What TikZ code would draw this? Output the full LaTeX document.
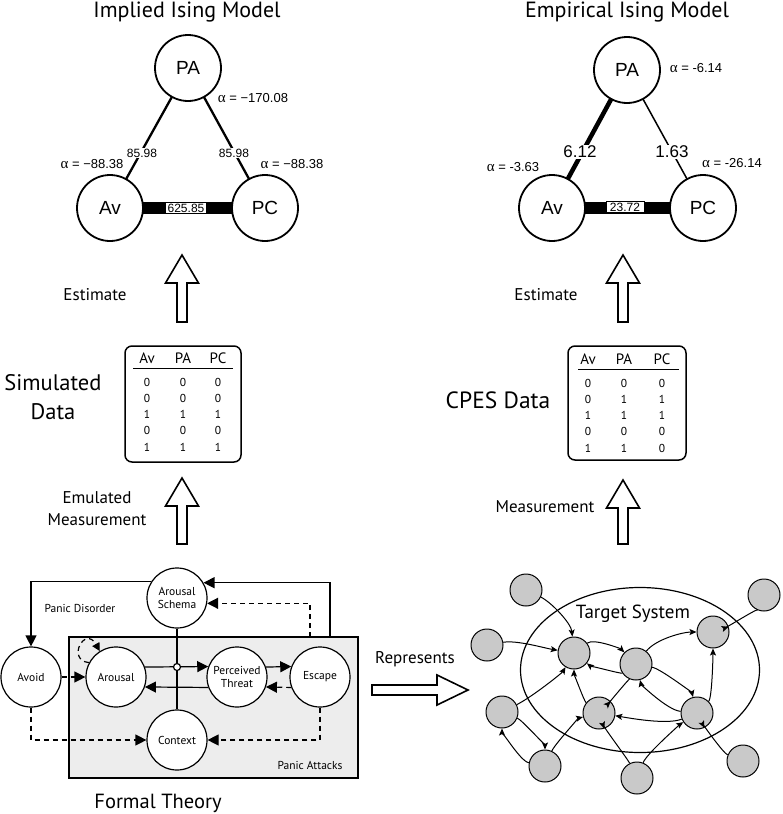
\documentclass[tikz,border=0pt]{standalone}
\usepackage{fontspec}
\setmainfont{PT Sans}
\newfontfamily\arialf{Liberation Sans}
\newfontfamily\timesf{Liberation Serif}
\usetikzlibrary{arrows.meta,shapes.geometric}
\pgfdeclarelayer{bg}
\pgfsetlayers{bg,main}
\newcommand\hollowup[3]{\draw[hollow] (#1,#2) -- (#1+16.5,#2+28) -- (#1+5,#2+28) -- (#1+5,#3) -- (#1-5,#3) -- (#1-5,#2+28) -- (#1-16.5,#2+28) -- cycle;}
\newcommand\alf{{\timesf\fontsize{15}{15}\selectfont α}}
\begin{document}
\begin{tikzpicture}[x=1pt,y=-1pt,
  isnode/.style={circle,draw,fill=white,line width=1.8pt,minimum size=66pt,inner sep=0pt,font=\arialf\fontsize{19}{19}\selectfont},
  ftnode/.style={circle,draw,line width=1.2pt,fill=white,minimum size=60pt,inner sep=0pt,align=center,font=\fontsize{11.5}{13}\selectfont},
  gnode/.style={circle,draw,line width=1pt,fill=black!21,minimum size=32pt,inner sep=0pt},
  elab/.style={font=\arialf\fontsize{12}{12}\selectfont,inner sep=1pt},
  blab/.style={font=\arialf\fontsize{17}{17}\selectfont,inner sep=1pt,fill=white},
  alab/.style={font=\arialf\fontsize{13}{13}\selectfont,inner sep=0pt},
  bigarr/.style={-{Triangle[length=11pt,width=11pt]}},
  smarr/.style={-{Stealth[length=7pt,width=6pt,inset=1.5pt]}},
  dsh/.style={dash pattern=on 5pt off 4pt},
  hollow/.style={draw,line width=1.6pt,fill=white,line join=miter},
  lbl/.style={font=\fontsize{17}{22}\selectfont,align=center},
  big/.style={font=\fontsize{22.5}{29}\selectfont,align=center},
  tab/.style={font=\fontsize{11.5}{11}\selectfont,anchor=base},
  tabh/.style={font=\fontsize{15}{15}\selectfont,anchor=base},
  ftl/.style={font=\fontsize{11.5}{13}\selectfont},
  ]
\useasboundingbox (0,0) rectangle (782,814);

% ---------- Implied Ising Model ----------
\node[font=\fontsize{22}{22}\selectfont,anchor=base] (t1) at (187,17) {Implied Ising Model};
\node[isnode] (PA1) at (188,68) {PA};
\node[isnode] (Av1) at (110,208) {Av};
\node[isnode] (PC1) at (265,208) {PC};
\begin{pgfonlayer}{bg}
\draw[line width=2.3pt] (PA1.center) -- (Av1.center);
\draw[line width=2.3pt] (PA1.center) -- (PC1.center);
\draw[line width=12pt] (Av1.center) -- (PC1.center);
\end{pgfonlayer}
\node[elab,fill=white] (e11) at (142,153) {85.98};
\node[elab,fill=white] (e12) at (234,153) {85.98};
\node[elab,draw,fill=white,line width=0.6pt,inner xsep=2pt] (e13) at (186,208) {625.85};
\node[alab] (a11) at (253,98) {\alf{} = −170.08};
\node[alab] (a12) at (92,164) {\alf{} = −88.38};
\node[alab] (a13) at (292,164) {\alf{} = −88.38};

% ---------- Empirical Ising Model ----------
\node[font=\fontsize{22}{22}\selectfont,anchor=base] (t2) at (627,17) {Empirical Ising Model};
\node[isnode] (PA2) at (627,70) {PA};
\node[isnode] (Av2) at (552,208) {Av};
\node[isnode] (PC2) at (703,208) {PC};
\begin{pgfonlayer}{bg}
\draw[line width=4.5pt] (PA2.center) -- (Av2.center);
\draw[line width=1.5pt] (PA2.center) -- (PC2.center);
\draw[line width=12pt] (Av2.center) -- (PC2.center);
\end{pgfonlayer}
\node[blab] (e21) at (580,152) {6.12};
\node[blab] (e22) at (672,152) {1.63};
\node[elab,draw,fill=white,line width=0.6pt,inner xsep=4pt] (e23) at (625,207) {23.72};
\node[alab] (a21) at (696,68) {\alf{} = -6.14};
\node[alab] (a22) at (513,167) {\alf{} = -3.63};
\node[alab] (a23) at (732,163) {\alf{} = -26.14};

% ---------- hollow arrows ----------
\hollowup{182}{255}{322}
\hollowup{623}{255}{322}
\hollowup{182}{478}{544}
\hollowup{623}{480}{544}
\draw[hollow] (372,685) -- (437,685) -- (437,675) -- (468,690) -- (437,705) -- (437,695) -- (372,695) -- cycle;

\node[lbl] (est1) at (95,295) {Estimate};
\node[lbl] (est2) at (546,295) {Estimate};
\node[lbl] (em1) at (97,509) {Emulated\\Measurement};
\node[lbl] (ms2) at (545,507) {Measurement};
\node[font=\fontsize{17}{17}\selectfont] (rep) at (415,659) {Represents};
\node[big] (sim) at (53,397) {Simulated\\Data};
\node[font=\fontsize{23.5}{23.5}\selectfont] (cpes) at (498,400) {CPES Data};
\node[font=\fontsize{20.5}{20}\selectfont] (ftt) at (158,803) {Formal Theory};

% ---------- tables ----------
\node[draw,rounded corners=7pt,line width=1.5pt,minimum width=116pt,minimum height=116pt] (T1) at (183,404) {};
\draw[line width=1pt] (133,368) -- (233,368);
\node[tabh] at (147,363) {Av};
\node[tabh] at (183,363) {PA};
\node[tabh] at (218,363) {PC};
\foreach \y/\a/\b/\c in {386/0/0/0, 402/0/0/0, 418/1/1/1, 434.5/0/0/0, 451/1/1/1}{
  \node[tab] at (147,\y) {\a};
  \node[tab] at (183,\y) {\b};
  \node[tab] at (218,\y) {\c};
}
\node[draw,rounded corners=7pt,line width=1.5pt,minimum width=118pt,minimum height=114pt] (T2) at (627,403) {};
\draw[line width=1pt] (578,369) -- (679,369);
\node[tabh] at (588,364) {Av};
\node[tabh] at (624,364) {PA};
\node[tabh] at (662,364) {PC};
\foreach \y/\a/\b/\c in {387/0/0/0, 403/0/1/1, 419/1/1/1, 435.5/0/0/0, 452/1/1/0}{
  \node[tab] at (588,\y) {\a};
  \node[tab] at (624,\y) {\b};
  \node[tab] at (662,\y) {\c};
}

% ---------- Formal theory ----------
\node[draw,fill=black!7,line width=1.2pt,minimum width=289pt,minimum height=141pt,inner sep=0pt] (PAbox) at (213.5,707.5) {};
\node[ftl] (pat) at (310,765) {Panic Attacks};
\node[ftl] (pdl) at (80,608) {Panic Disorder};
\node[ftnode] (AS) at (177,598) {Arousal\\Schema};
\node[ftnode] (Avoid) at (31,677) {Avoid};
\node[ftnode] (Aro) at (116,677) {Arousal};
\node[ftnode] (PT) at (237,677) {Perceived\\Threat};
\node[ftnode] (Esc) at (320,677) {Escape};
\node[ftnode] (Ctx) at (177,740) {Context};
\coordinate (bx1) at (330,637);
\coordinate (bx2) at (310,637);
\begin{scope}[line width=1.2pt]
\draw[bigarr] (AS.148) -| (Avoid.north);
\draw[bigarr] (bx1) |- (AS.30);
\draw[bigarr,dsh] (bx2) |- (AS.-10);
\draw (AS.south) -- (Ctx.north);
\draw[bigarr] (Aro.19.5) -- (PT.160.5);
\draw[bigarr] (PT.-160.5) -- (Aro.-19.5);
\draw[bigarr] (PT.19.5) -- (Esc.160.5);
\draw[bigarr,dsh] (Esc.-160.5) -- (PT.-19.5);
\draw[bigarr,dsh] (Avoid.east) -- (Aro.west);
\draw[bigarr,dsh] (Avoid.south) |- (Ctx.west);
\draw[bigarr,dsh] (Esc.south) |- (Ctx.east);
\draw[dsh,-{Triangle[length=8pt,width=8pt]}] (Aro.152) .. controls (66,660) and (85,625) .. (Aro.122);
\node[circle,draw,fill=white,line width=1.2pt,minimum size=7pt,inner sep=0pt] (jn) at (177,667) {};
\end{scope}

% ---------- Target system ----------
\node[ellipse,draw,line width=1.2pt,minimum width=239pt,minimum height=165pt] (TS) at (640,670) {};
\node[font=\fontsize{19}{19}\selectfont] (tsl) at (633,614) {Target System};
\node[gnode] (n1) at (526,590) {};
\node[gnode] (n2) at (487,645) {};
\node[gnode] (n3) at (574,653) {};
\node[gnode] (n4) at (636,664) {};
\node[gnode] (n5) at (713,632) {};
\node[gnode] (n6) at (764,595) {};
\node[gnode] (n7) at (502,712) {};
\node[gnode] (n8) at (599,713) {};
\node[gnode] (n9) at (697,713) {};
\node[gnode] (n10) at (545,766) {};
\node[gnode] (n11) at (637,778) {};
\node[gnode] (n12) at (743,761) {};
\begin{scope}[line width=1pt,smarr]
\draw (n1) .. controls +(25,12) and +(-3,-30) .. (n3);
\draw (n2) .. controls +(30,-5) and +(-30,-5) .. (n3);
\draw (n3) .. controls +(20,-15) and +(-15,-15) .. (n4);
\draw (n4) .. controls +(-15,10) and +(15,12) .. (n3);
\draw (n4) .. controls +(20,-25) and +(-30,0) .. (n5);
\draw (n6) .. controls +(-5,12) and +(15,-5) .. (n5);
\draw (n4) .. controls +(-5,12) and +(10,-10) .. (n8);
\draw (n4) .. controls +(25,5) and +(-5,-20) .. (n9);
\draw (n9) .. controls +(-30,-3) and +(5,20) .. (n4);
\draw (n9) .. controls +(15,-15) and +(0,25) .. (n5);
\draw (n9) .. controls +(-30,12) and +(30,5) .. (n8);
\draw (n8) .. controls +(-15,-12) and +(0,20) .. (n3);
\draw (n7) .. controls +(30,-15) and +(-12,20) .. (n3);
\draw (n7) .. controls +(20,8) and +(0,-20) .. (n10);
\draw (n10) .. controls +(-25,-5) and +(0,18) .. (n7);
\draw (n10) .. controls +(10,-22) and +(-20,5) .. (n8);
\draw (n11) .. controls +(-10,-20) and +(5,15) .. (n8);
\draw (n11) .. controls +(10,-25) and +(-15,10) .. (n9);
\draw (n12) .. controls +(-20,-8) and +(5,10) .. (n9);
\end{scope}
\end{tikzpicture}
\end{document}
